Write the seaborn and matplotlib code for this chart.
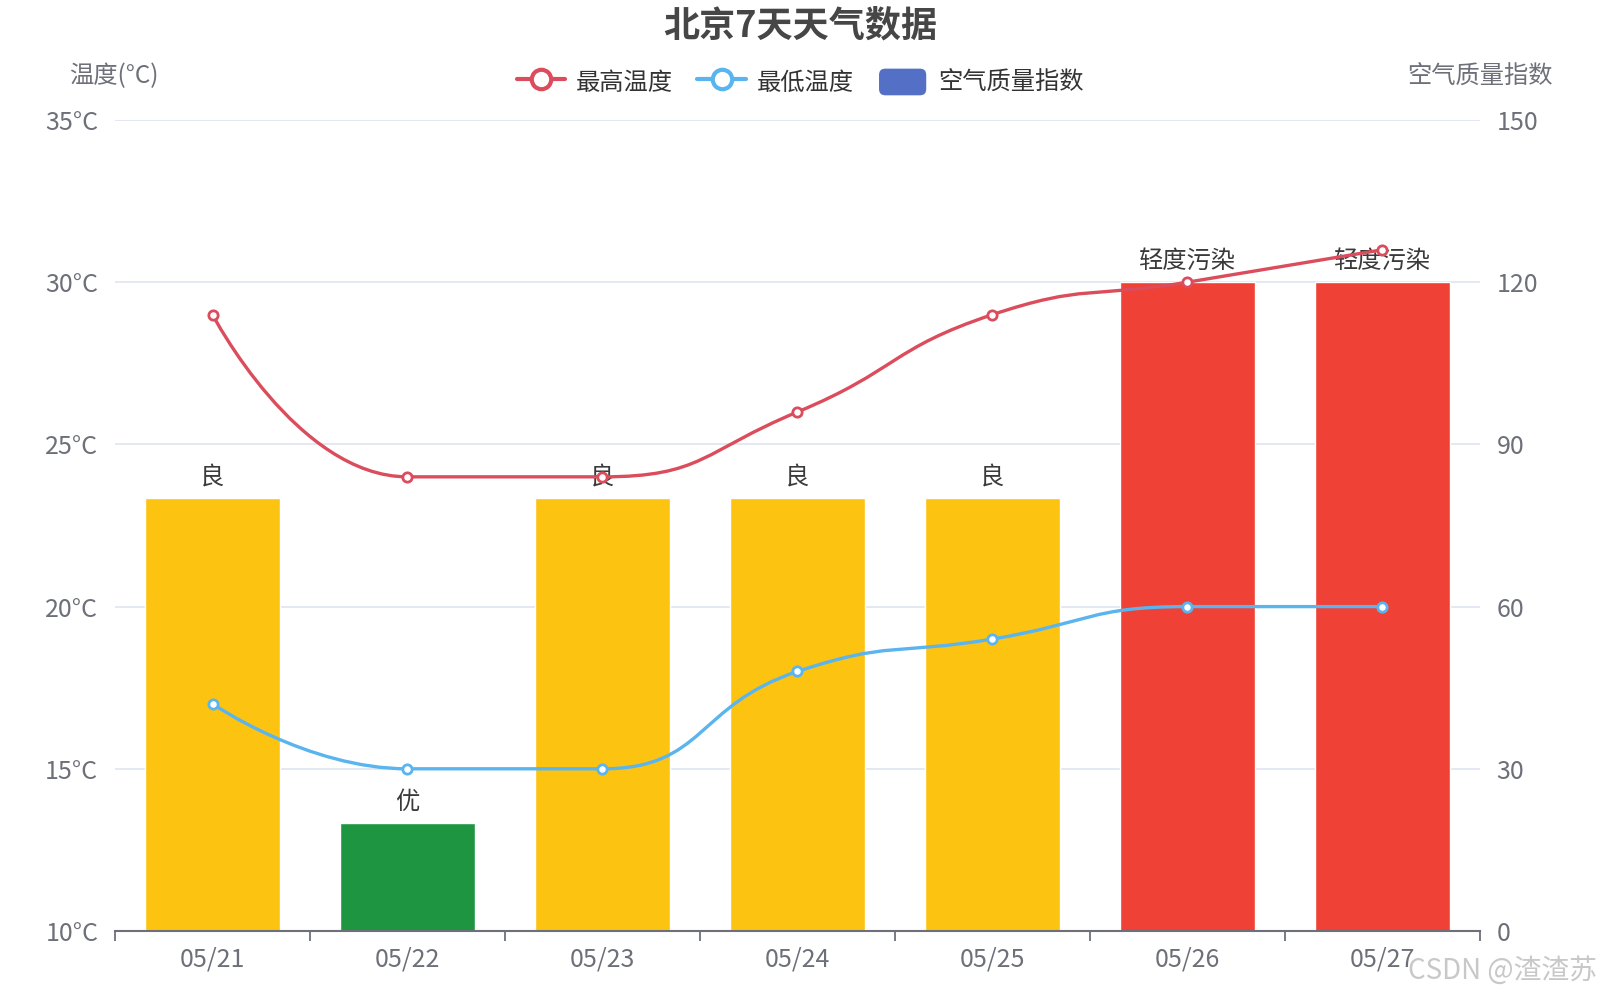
import numpy as np
import pandas as pd
import matplotlib
matplotlib.use('Agg')
import matplotlib.pyplot as plt
import seaborn as sns
from matplotlib.path import Path
from matplotlib.patches import PathPatch, Patch, FancyBboxPatch
from matplotlib.lines import Line2D
from matplotlib.legend_handler import HandlerPatch


dates = ['05/21', '05/22', '05/23', '05/24', '05/25', '05/26', '05/27']
high_temp = [29, 24, 24, 26, 29, 30, 31]
low_temp = [17, 15, 15, 18, 19, 20, 20]
aqi = [80, 20, 80, 80, 80, 120, 120]
aqi_level = ['良', '优', '良', '良', '良', '轻度污染', '轻度污染']
level_colors = {'优': '#1E9641', '良': '#FDC311', '轻度污染': '#EF4136'}

temp_ticks = [10, 15, 20, 25, 30, 35]
aqi_ticks = [0, 30, 60, 90, 120, 150]

red = '#DB4C5C'
blue = '#5AB4EE'
gray = '#6E7079'

df = pd.DataFrame({'date': dates, 'aqi': aqi, 'level': aqi_level})


def smooth_path(ax, xs, ys, smooth=0.5):
    # echarts-like bezier smoothing, done in pixel space
    pts = ax.transData.transform(np.column_stack([xs, ys]))
    n = len(pts)
    verts = [pts[0]]
    codes = [Path.MOVETO]
    cp1 = pts[0].copy()
    for i in range(1, n):
        x, y = pts[i]
        px, py = pts[i - 1]
        if i == n - 1:
            cp0 = pts[i].copy()
            nxt = pts[i].copy()
        else:
            nx_, ny_ = pts[i + 1]
            vx, vy = nx_ - px, ny_ - py
            len_prev = np.hypot(x - px, y - py)
            len_next = np.hypot(nx_ - x, ny_ - y)
            ratio = len_next / (len_next + len_prev)
            ncx = x + vx * smooth * ratio
            ncy = y + vy * smooth * ratio
            ncx = max(min(ncx, max(nx_, x)), min(nx_, x))
            ncy = max(min(ncy, max(ny_, y)), min(ny_, y))
            vx, vy = ncx - x, ncy - y
            cx = x - vx * len_prev / len_next
            cy = y - vy * len_prev / len_next
            cx = max(min(cx, max(px, x)), min(px, x))
            cy = max(min(cy, max(py, y)), min(py, y))
            vx, vy = x - cx, y - cy
            ncx = x + vx * len_next / len_prev
            ncy = y + vy * len_next / len_prev
            cp0 = np.array([cx, cy])
            nxt = np.array([ncx, ncy])
        verts += [cp1, cp0, pts[i]]
        codes += [Path.CURVE4] * 3
        cp1 = nxt
    verts = ax.transData.inverted().transform(np.array(verts))
    return Path(verts, codes)


def round_box(legend, orig_handle, xdescent, ydescent, width, height, fontsize):
    return FancyBboxPatch((-xdescent, -ydescent), width, height,
                          boxstyle='round,pad=0,rounding_size=5')


sns.set_theme(style='white')
plt.rcParams['font.family'] = ['Noto Sans CJK SC', 'DejaVu Sans']

fig = plt.figure(figsize=(16, 10), dpi=100)
ax_bar = fig.add_axes([0.0719, 0.069, 0.853, 0.811])
ax_temp = ax_bar.twinx()
ax_bar.yaxis.tick_right()
ax_temp.yaxis.tick_left()

# bars (AQI, right axis)
sns.barplot(data=df, x='date', y='aqi', hue='level', palette=level_colors,
            dodge=False, width=0.69, saturation=1, legend=False, ax=ax_bar)
ax_bar.set_ylim(0, 150)
ax_bar.set_yticks(aqi_ticks)
ax_bar.set_xlim(-0.5, len(dates) - 0.5)
ax_bar.set_xlabel('')
ax_bar.set_ylabel('')
ax_bar.set_axisbelow(True)
ax_bar.grid(axis='y', color='#E0E6F1', lw=1.3)
ax_bar.grid(axis='x', visible=False)
for i, (v, lev) in enumerate(zip(aqi, aqi_level)):
    ax_bar.annotate(lev, (i, v), xytext=(0, 6), textcoords='offset points',
                    ha='center', va='bottom', fontsize=17.5, color='#3A3A3A')

ax_bar.set_xticks(range(len(dates)))
ax_bar.set_xticklabels(dates)
ax_bar.set_xticks(np.arange(-0.5, len(dates), 1), minor=True)
ax_bar.tick_params(axis='x', which='major', length=0, pad=11, labelsize=18, labelcolor=gray)
ax_bar.tick_params(axis='x', which='minor', length=7, width=1.3, color=gray, bottom=True)
ax_bar.tick_params(axis='y', length=0, pad=12, labelsize=18, labelcolor=gray,
                   right=True, left=False, labelright=True, labelleft=False)
for s in ['left', 'right', 'top']:
    ax_bar.spines[s].set_visible(False)
ax_bar.spines['bottom'].set_color(gray)
ax_bar.spines['bottom'].set_linewidth(1.5)

# temperature lines (left axis)
ax_temp.set_ylim(10, 35)
ax_temp.set_yticks(temp_ticks)
ax_temp.set_yticklabels([f'{t}°C' for t in temp_ticks])
ax_temp.tick_params(axis='y', length=0, pad=12, labelsize=18, labelcolor=gray,
                    left=True, right=False, labelleft=True, labelright=False)
for s in ax_temp.spines.values():
    s.set_visible(False)

xs = np.arange(len(dates))
for vals, col in [(high_temp, red), (low_temp, blue)]:
    ax_temp.add_patch(PathPatch(smooth_path(ax_temp, xs, vals), facecolor='none',
                                edgecolor=col, lw=2.4, zorder=3))
    sns.scatterplot(x=xs, y=vals, ax=ax_temp, s=45, color='white',
                    edgecolor=col, linewidth=2, zorder=4, legend=False)
ax_temp.set_xlim(-0.5, len(dates) - 0.5)

# titles
fig.text(0.5, 0.974, '北京7天天气数据', ha='center', va='center',
         fontsize=26, fontweight='bold', color='#464646')
fig.text(0.0714, 0.9235, '温度(°C)', ha='center', va='center', fontsize=17.5, color=gray)
fig.text(0.925, 0.9235, '空气质量指数', ha='center', va='center', fontsize=17.5, color=gray)

handles = [
    Line2D([], [], color=red, lw=3, marker='o', markersize=14,
           markerfacecolor='white', markeredgewidth=3),
    Line2D([], [], color=blue, lw=3, marker='o', markersize=14,
           markerfacecolor='white', markeredgewidth=3),
    Patch(facecolor='#5470C6'),
]
fig.legend(handles, ['最高温度', '最低温度', '空气质量指数'], loc='center',
           bbox_to_anchor=(0.5, 0.918), ncol=3, frameon=False, fontsize=17.5,
           handlelength=2.0, handleheight=1.4, handletextpad=0.45, columnspacing=1.0,
           labelcolor='#333333',
           handler_map={Patch: HandlerPatch(patch_func=round_box)})

fig.text(0.998, 0.029, 'CSDN @渣渣苏', ha='right', va='center', fontsize=20, color='#C8C8C8')

fig.savefig('out.png', dpi=100)
